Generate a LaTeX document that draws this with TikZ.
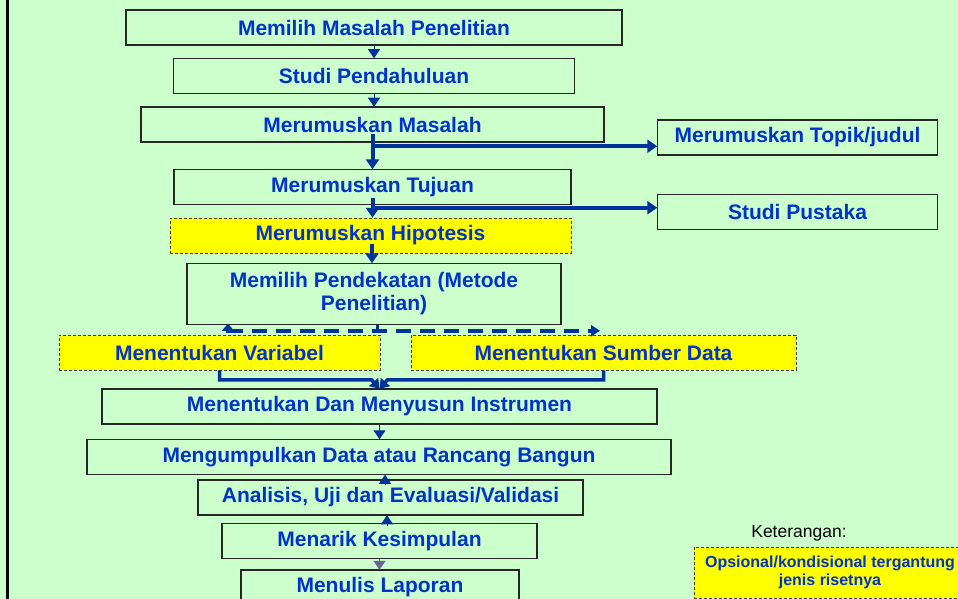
\documentclass[tikz,border=0pt]{standalone}
\usepackage{fontspec}
\setmainfont{Liberation Sans}
\usepackage{xcolor}
\usepackage{tikz}
\usetikzlibrary{arrows.meta}
\usetikzlibrary{positioning}
\usetikzlibrary{calc}
\definecolor{bggreen}{HTML}{CCFFCC}
\definecolor{txtblue}{HTML}{0033CC}
\definecolor{arrblue}{HTML}{003399}
\definecolor{optyellow}{HTML}{FFFF00}
\definecolor{tipgrey}{HTML}{666699}
\tikzset{
	block/.style={
		rectangle,
		draw=black!85, line width=1.2pt,
		fill=bggreen,
		minimum height=35pt,
		inner sep=2pt, outer sep=0.25pt,
		text=txtblue,
		font=\fontsize{21}{23}\selectfont\bfseries,
		text centered,
		},
	optblock/.style={
		block,
		fill=optyellow,
		draw=black!75, line width=0.9pt,
		dash pattern=on 3pt off 2pt,
		},
	flow/.style={
		draw=arrblue, line width=4pt,
		-{Triangle[width=13pt,length=10pt]},
		},
	gather/.style={
		draw=arrblue, line width=3.5pt,
		-{Triangle[width=12pt,length=9pt]},
		},
	spread/.style={
		draw=arrblue, line width=4pt,
		dash pattern=on 15pt off 9pt,
		{Triangle[width=12pt,length=7pt]}-{Triangle[width=11pt,length=9pt]},
		},
	tip/.style={
		draw=arrblue, line width=1pt,
		-{Triangle[width=12pt,length=9pt]},
		},
}

\begin{document}
\begin{tikzpicture}[x=1pt, y=-1pt, node distance=13pt]
	\useasboundingbox (0,0) rectangle (958,599);
	\clip (0,0) rectangle (958,599);
	\fill[bggreen] (0,0) rectangle (958,599);
	\draw[line width=3pt] (7.5,0) -- (7.5,599);

	% main column
	\node[block, minimum width=496pt] (memilih) at (374,27.5) {Memilih Masalah Penelitian};
	\node[block, below=of memilih, minimum width=401pt] (pendahuluan) {Studi Pendahuluan};
	\node[block, below=of pendahuluan, xshift=-1.5pt, minimum width=463pt] (masalah) {Merumuskan Masalah};
	\node[block, below=27pt of masalah, minimum width=397pt] (tujuan) {Merumuskan Tujuan};
	\node[optblock, below=of tujuan, xshift=-2pt, minimum width=401pt] (hipotesis) {Merumuskan Hipotesis};
	\node[block, below=10pt of hipotesis, xshift=3.5pt, minimum width=374pt, minimum height=61pt, align=center] (pendekatan) {Memilih Pendekatan (Metode\\Penelitian)};

	\node[optblock, below=10pt of pendekatan, xshift=-154.5pt, minimum width=321pt] (variabel) {Menentukan Variabel};
	\node[optblock, below=10pt of pendekatan, xshift=229.5pt, minimum width=385pt] (sumber) {Menentukan Sumber Data};

	\node[block, below=64pt of pendekatan, xshift=5.5pt, minimum width=555pt] (instrumen) {Menentukan Dan Menyusun Instrumen};
	\node[block, below=15pt of instrumen, xshift=-0.5pt, minimum width=584pt] (kumpul) {Mengumpulkan Data atau Rancang Bangun};
	\node[block, below=5pt of kumpul, xshift=11.5pt, minimum width=385pt] (analisis) {Analisis, Uji dan Evaluasi/Validasi};
	\node[block, below=8pt of analisis, xshift=-11pt, minimum width=315pt] (simpulan) {Menarik Kesimpulan};
	\node[block, below=11pt of simpulan, xshift=0.5pt, minimum width=278pt] (laporan) {Menulis Laporan};

	% side boxes
	\node[block, right=53pt of masalah, yshift=-13pt, minimum width=280pt] (topik) {Merumuskan Topik/judul};
	\node[block, below=39pt of topik, minimum width=280pt] (pustaka) {Studi Pustaka};

	% legend
	\node[text=black, font=\fontsize{17.5}{20}\selectfont] (ket) at (799,533) {Keterangan:};
	\node[optblock, minimum width=272pt, minimum height=51pt, align=center, font=\fontsize{16}{18}\selectfont\bfseries] (legenda) at (830,572.5) {Opsional/kondisional tergantung\\jenis risetnya};

	\draw[tip] (memilih.south) -- (memilih.south |- pendahuluan.north);
	\draw[tip] (pendahuluan.south) -- (pendahuluan.south |- masalah.north);

	\draw[flow] ($(masalah.south)+(0,8pt)$) -- (masalah.south |- tujuan.north);
	\coordinate (br1) at ($(masalah.south)+(0,-4pt)$);
	\draw[flow] (br1) -- (br1 -| topik.west);

	\draw[flow] ($(tujuan.south)+(0,7pt)$) -- (tujuan.south |- hipotesis.north);
	\coordinate (br2) at ($(tujuan.south)+(0,-3pt)$);
	\draw[flow] (br2) -- (br2 -| pustaka.west);

	\draw[flow] ($(hipotesis.south)+(1.5pt,9pt)$) -- ($(hipotesis.south |- pendekatan.north)+(1.5pt,0)$);

	\coordinate (spl) at ($(pendekatan.south)+(-146pt,1pt)$);
	\coordinate (spr) at ($(pendekatan.south)+(226pt,-6pt)$);
	\draw[spread] (spl) |- (spr);
	\draw[draw=arrblue, line width=3pt] ($(pendekatan.south)+(3pt,0)$) -- ++(0,-8pt);

	\draw[gather] (variabel.south) |- ($(instrumen.north)+(-8pt,9pt)$) -- (instrumen.north);
	\draw[gather] (sumber.south) |- ($(instrumen.north)+(8pt,9pt)$) -- (instrumen.north);

	\draw[tip] (instrumen.south) -- (instrumen.south |- kumpul.north);
	\draw[tip] ($(analisis.north)+(-5.5pt,-4pt)$) -- ($(kumpul.south)+(6pt,0)$);
	\draw[tip] ($(simpulan.north)+(7.5pt,-3pt)$) -- ($(analisis.south)+(-3.5pt,0)$);
	\draw[tip, draw=tipgrey] (simpulan.south) -- (simpulan.south |- laporan.north);

\end{tikzpicture}
\end{document}
